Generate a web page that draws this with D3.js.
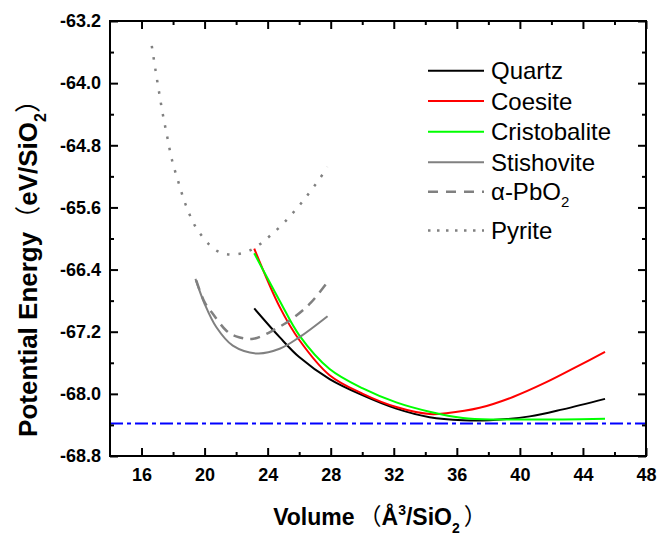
<!DOCTYPE html>
<html>
<head>
<meta charset="utf-8">
<script src="https://cdn.jsdelivr.net/npm/d3@7"></script>
<style>
  html, body { margin: 0; padding: 0; background: #fff; }
  svg { display: block; }
  text { font-family: "Liberation Sans", Arial, "Noto Sans CJK SC", sans-serif; }
</style>
</head>
<body>
<svg id="chart" width="659" height="536"></svg>
<script>
// Energy–volume curves of SiO2 polymorphs (eV per SiO2 vs Å^3 per SiO2)
const quartzV = [23.15, 24.76, 26.02, 27.93, 30.04, 32.16, 34.27, 36.39, 38.08, 40.62, 42.73, 45.4];
const quartzE = [-66.90, -67.27, -67.53, -67.81, -68.02, -68.19, -68.30, -68.34, -68.34, -68.29, -68.20, -68.065];

const coesiteV = [23.15, 24.76, 26.02, 27.93, 30.04, 32.16, 34.27, 35.33, 37.45, 39.56, 41.68, 43.8, 45.4];
const coesiteE = [-66.13, -66.88, -67.31, -67.76, -68.00, -68.17, -68.26, -68.25, -68.18, -68.04, -67.85, -67.63, -67.46];

const cristobaliteV = [23.15, 24.76, 26.02, 27.93, 30.04, 32.16, 34.27, 36.39, 38.5, 40.62, 42.73, 45.4];
const cristobaliteE = [-66.19, -66.80, -67.25, -67.68, -67.93, -68.11, -68.23, -68.31, -68.33, -68.33, -68.33, -68.32];

const stishoviteV = [19.42, 20.0, 20.74, 21.79, 23.34, 24.76, 26.02, 27.8];
const stishoviteE = [-66.52, -66.84, -67.14, -67.38, -67.48, -67.42, -67.27, -67.00];

const pbo2V = [19.47, 20.0, 20.52, 21.4, 22.0, 23.1, 24.55, 25.71, 26.77, 27.72];
const pbo2E = [-66.54, -66.82, -66.97, -67.19, -67.26, -67.29, -67.16, -67.01, -66.82, -66.58];

const pyriteV = [16.65, 16.87, 17.10, 17.35, 17.63, 17.92, 18.35, 18.81, 19.49, 20.63, 21.37, 22.09, 22.81, 23.53, 24.18, 24.88, 25.52, 26.11, 26.68, 27.23, 27.8];
const pyriteE = [-63.52, -63.81, -64.10, -64.40, -64.69, -64.98, -65.28, -65.57, -65.87, -66.14, -66.20, -66.20, -66.16, -66.07, -65.96, -65.83, -65.69, -65.55, -65.40, -65.25, -65.08];

const groundLevel = -68.38;

const xMajor = [16, 20, 24, 28, 32, 36, 40, 44, 48];
const xMinor = [18, 22, 26, 30, 34, 38, 42, 46];
const yMajor = [-68.8, -68.0, -67.2, -66.4, -65.6, -64.8, -64.0, -63.2];
const yMinor = [-68.4, -67.6, -66.8, -66.0, -65.2, -64.4, -63.6];

const seriesNames = ["Quartz", "Coesite", "Cristobalite", "Stishovite", "α-PbO2", "Pyrite"];

(function draw() {
  const series = [
    { name: seriesNames[0], v: quartzV, e: quartzE, color: "#000000", dash: null, width: 2 },
    { name: seriesNames[1], v: coesiteV, e: coesiteE, color: "#ff0000", dash: null, width: 2 },
    { name: seriesNames[2], v: cristobaliteV, e: cristobaliteE, color: "#00ff00", dash: null, width: 2 },
    { name: seriesNames[3], v: stishoviteV, e: stishoviteE, color: "#808080", dash: null, width: 2 },
    { name: seriesNames[4], v: pbo2V, e: pbo2E, color: "#808080", dash: "10,7", legendDash: "10,8", width: 2.5 },
    { name: seriesNames[5], v: pyriteV, e: pyriteE, color: "#808080", dash: "2.5,9", legendDash: "2.5,6.5", width: 2.5 }
  ];

  const svg = d3.select("#chart");
  const pl = 110, pr = 646, pt = 21, pb = 456;

  const x = d3.scaleLinear().domain([14, 48]).range([pl, pr]);
  const y = d3.scaleLinear().domain([-68.8, -63.2]).range([pb, pt]);

  const fmtY = d => d.toFixed(1);

  svg.append("clipPath").attr("id", "plotClip")
    .append("rect").attr("x", pl).attr("y", pt).attr("width", pr - pl).attr("height", pb - pt);

  const plot = svg.append("g").attr("clip-path", "url(#plotClip)");

  // Reference line at the quartz ground-state energy
  plot.append("line")
    .attr("x1", x(14)).attr("x2", x(48))
    .attr("y1", y(groundLevel)).attr("y2", y(groundLevel))
    .attr("stroke", "#0000ff").attr("stroke-width", 2)
    .attr("stroke-dasharray", "13,4,4,4");

  const line = d3.line()
    .x(d => x(d[0]))
    .y(d => y(d[1]))
    .curve(d3.curveCatmullRom.alpha(0.5));

  series.forEach(s => {
    plot.append("path")
      .datum(s.v.map((v, i) => [v, s.e[i]]))
      .attr("d", line)
      .attr("fill", "none")
      .attr("stroke", s.color)
      .attr("stroke-width", s.width)
      .attr("stroke-dasharray", s.dash)
      .attr("stroke-linecap", "butt");
  });

  // Axes with inward ticks on all four sides
  const tickFont = g => g.selectAll("text")
    .attr("font-size", 18).attr("font-weight", "bold").attr("fill", "#000")
    .attr("font-family", "'Liberation Sans', Arial, sans-serif");

  const styleAxis = g => {
    g.select(".domain").remove();
    g.selectAll(".tick line").attr("stroke", "#000").attr("stroke-width", 2);
  };

  svg.append("g").attr("transform", `translate(0,${pb})`)
    .call(d3.axisBottom(x).tickValues(xMajor).tickSize(-8).tickPadding(12))
    .call(styleAxis).call(tickFont);
  svg.append("g").attr("transform", `translate(0,${pb})`)
    .call(d3.axisBottom(x).tickValues(xMinor).tickSize(-4).tickFormat(""))
    .call(styleAxis);

  svg.append("g").attr("transform", `translate(0,${pt})`)
    .call(d3.axisTop(x).tickValues(xMajor).tickSize(-8).tickFormat(""))
    .call(styleAxis);
  svg.append("g").attr("transform", `translate(0,${pt})`)
    .call(d3.axisTop(x).tickValues(xMinor).tickSize(-4).tickFormat(""))
    .call(styleAxis);

  svg.append("g").attr("transform", `translate(${pl},0)`)
    .call(d3.axisLeft(y).tickValues(yMajor).tickSize(-8).tickPadding(9).tickFormat(fmtY))
    .call(styleAxis).call(tickFont);
  svg.append("g").attr("transform", `translate(${pl},0)`)
    .call(d3.axisLeft(y).tickValues(yMinor).tickSize(-4).tickFormat(""))
    .call(styleAxis);

  svg.append("g").attr("transform", `translate(${pr},0)`)
    .call(d3.axisRight(y).tickValues(yMajor).tickSize(-8).tickFormat(""))
    .call(styleAxis);
  svg.append("g").attr("transform", `translate(${pr},0)`)
    .call(d3.axisRight(y).tickValues(yMinor).tickSize(-4).tickFormat(""))
    .call(styleAxis);

  // Plot frame
  svg.append("rect")
    .attr("x", pl).attr("y", pt)
    .attr("width", pr - pl).attr("height", pb - pt)
    .attr("fill", "none").attr("stroke", "#000").attr("stroke-width", 2);

  // Axis titles
  const cjk = "'Noto Sans CJK SC', sans-serif";
  const xt = svg.append("text")
    .attr("x", (pl + pr) / 2 + 2).attr("y", 525)
    .attr("text-anchor", "middle")
    .attr("font-size", 23).attr("font-weight", "bold");
  xt.append("tspan").text("Volume");
  xt.append("tspan").attr("dx", 4).attr("font-family", cjk).attr("font-weight", "normal").text("（");
  xt.append("tspan").text("Å");
  xt.append("tspan").attr("font-size", 14).attr("dy", -10).text("3");
  xt.append("tspan").attr("dy", 10).text("/SiO");
  xt.append("tspan").attr("font-size", 14).attr("dy", 8).text("2");
  xt.append("tspan").attr("dy", -8).attr("dx", 4).attr("font-family", cjk).attr("font-weight", "normal").text("）");

  const yt = svg.append("text")
    .attr("transform", "translate(37,262) rotate(-90)")
    .attr("text-anchor", "middle")
    .attr("font-size", 26).attr("font-weight", "bold");
  yt.append("tspan").text("Potential Energy");
  yt.append("tspan").attr("font-family", cjk).attr("font-weight", "normal").text("（");
  yt.append("tspan").text("eV/SiO");
  yt.append("tspan").attr("font-size", 16).attr("dy", 9).text("2");
  yt.append("tspan").attr("dy", -9).attr("font-family", cjk).attr("font-weight", "normal").text("）");

  // Legend
  const legendRows = [70.7, 101, 131.7, 162.3, 191.8, 230.5];
  const legend = svg.append("g");
  series.forEach((s, i) => {
    const ly = legendRows[i];
    legend.append("line")
      .attr("x1", 428).attr("x2", 484)
      .attr("y1", ly).attr("y2", ly)
      .attr("stroke", s.color).attr("stroke-width", s.width)
      .attr("stroke-dasharray", s.legendDash || s.dash);
    const t = legend.append("text")
      .attr("x", 491).attr("y", ly + 8.5)
      .attr("font-size", 24).attr("fill", "#000");
    if (s.name.endsWith("O2")) {
      t.append("tspan").text(s.name.slice(0, -1));
      t.append("tspan").attr("font-size", 15).attr("dy", 7).text("2");
    } else {
      t.text(s.name);
    }
  });
})();
</script>
</body>
</html>
